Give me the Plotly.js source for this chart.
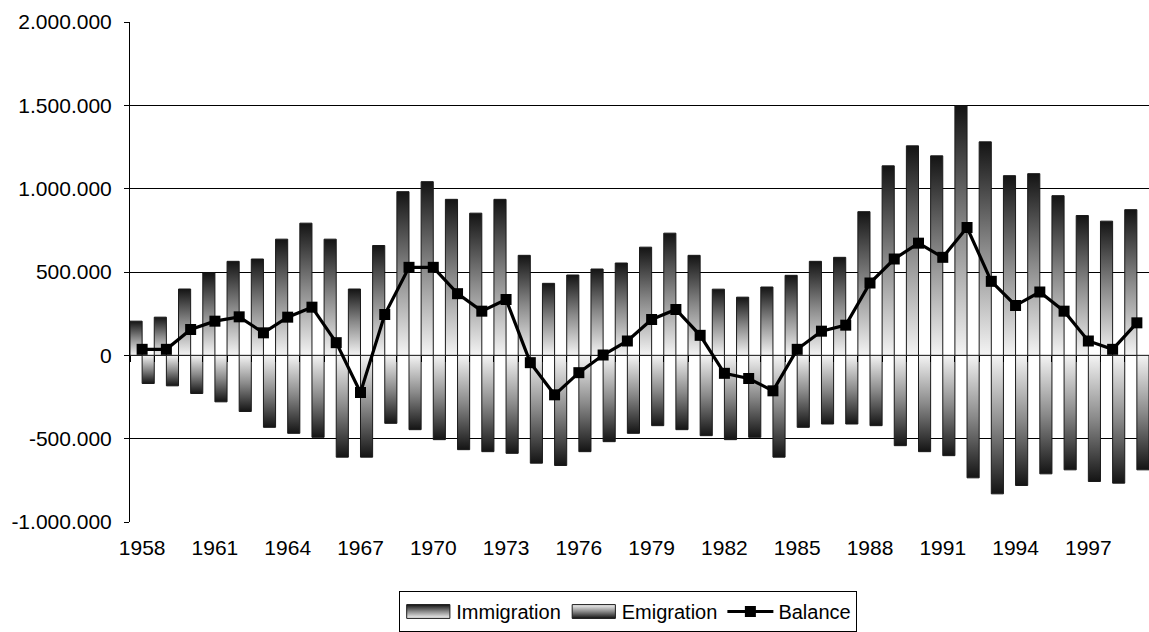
<!DOCTYPE html>
<html>
<head>
<meta charset="utf-8">
<script src="https://cdn.plot.ly/plotly-3.0.1.min.js"></script>
<style>
html,body{margin:0;padding:0;background:#fff;}
#chart{width:1149px;height:632px;}
</style>
</head>
<body>
<div id="chart"></div>
<script>
var years = ['1958','1959','1960','1961','1962','1963','1964','1965','1966','1967',
             '1968','1969','1970','1971','1972','1973','1974','1975','1976','1977',
             '1978','1979','1980','1981','1982','1983','1984','1985','1986','1987',
             '1988','1989','1990','1991','1992','1993','1994','1995','1996','1997',
             '1998','1999'];
var immigration = [205000, 229000, 398000, 494000, 564000, 578000, 697000, 793000, 697000, 398000,
                   659000, 982000, 1042000, 936000, 853000, 936000, 600000, 432000, 482000, 518000,
                   554000, 649000, 733000, 600000, 397000, 349000, 410000, 480000, 564000, 588000,
                   862000, 1137000, 1257000, 1197000, 1496000, 1281000, 1078000, 1090000, 958000, 839000,
                   805000, 874000];
var emigration = [-169000, -183000, -229000, -279000, -337000, -432000, -468000, -492000, -611000, -611000,
                  -408000, -446000, -506000, -566000, -578000, -588000, -647000, -661000, -578000, -518000,
                  -468000, -422000, -446000, -482000, -506000, -492000, -611000, -432000, -412000, -412000,
                  -422000, -542000, -578000, -602000, -735000, -831000, -781000, -711000, -687000, -757000,
                  -767000, -687000];
var balance = [36000, 36000, 155000, 205000, 231000, 135000, 229000, 289000, 76000, -223000,
               245000, 528000, 528000, 370000, 265000, 335000, -44000, -237000, -104000, 2000,
               86000, 215000, 275000, 120000, -108000, -139000, -213000, 36000, 145000, 181000,
               434000, 578000, 673000, 588000, 767000, 444000, 299000, 380000, 265000, 86000,
               36000, 195000];
var xTickVals = ['1958','1961','1964','1967','1970','1973','1976','1979','1982','1985','1988','1991','1994','1997'];
var yTickVals = [-1000000, -500000, 0, 500000, 1000000, 1500000, 2000000];
var yTickText = ['-1.000.000', '-500.000', '0', '500.000', '1.000.000', '1.500.000', '2.000.000'];

var FONT = 'Liberation Sans, Arial, sans-serif';

var traces = [
  {type:'bar', name:'Immigration', x:years, y:immigration, xaxis:'x', yaxis:'y',
   marker:{color:'#888', line:{color:'#1a1a1a', width:1}}},
  {type:'bar', name:'Emigration', x:years, y:emigration, xaxis:'x', yaxis:'y',
   marker:{color:'#888', line:{color:'#1a1a1a', width:1}}},
  {type:'scatter', mode:'lines+markers', name:'Balance', x:years, y:balance, xaxis:'x2', yaxis:'y',
   line:{color:'#000', width:3.2}, marker:{symbol:'square', size:11, color:'#000'}}
];

var layout = {
  width:1149, height:632,
  margin:{l:130, r:0, t:22, b:108},
  paper_bgcolor:'#fff', plot_bgcolor:'#fff',
  font:{family:FONT, size:21, color:'#000'},
  barmode:'group', bargap:0, bargroupgap:0,
  showlegend:true,
  legend:{orientation:'h', x:0.489, xanchor:'center', y:-0.139, yanchor:'top',
          bordercolor:'#000', borderwidth:1, font:{family:FONT, size:20, color:'#000'},
          itemwidth:46, tracegroupgap:0},
  xaxis:{type:'category', categoryarray:years, categoryorder:'array', range:[-0.5, 41.5],
         tickmode:'array', tickvals:xTickVals, ticks:'outside', ticklen:7, tickcolor:'rgba(0,0,0,0)',
         showline:false, showgrid:false, zeroline:false,
         tickfont:{family:FONT, size:21, color:'#000'}, fixedrange:true},
  xaxis2:{type:'category', categoryarray:years, categoryorder:'array', range:[-0.5, 41.5],
          overlaying:'x', anchor:'free', position:1/3, side:'bottom', layer:'above traces',
          showticklabels:false, ticks:'outside', tickson:'boundaries', ticklen:6, tickcolor:'#000', tickwidth:1,
          dtick:1, showline:false, showgrid:false, zeroline:false, fixedrange:true},
  yaxis:{range:[-1000000, 2000000], tickmode:'array', tickvals:yTickVals, ticktext:yTickText,
         ticks:'outside', ticklen:5, tickcolor:'#000', tickwidth:1, ticklabelstandoff:8,
         showline:true, linecolor:'#000', linewidth:1,
         showgrid:true, gridcolor:'#000', gridwidth:1,
         zeroline:true, zerolinecolor:'#000', zerolinewidth:1,
         tickfont:{family:FONT, size:21, color:'#000'}, fixedrange:true}
};

function applyGradients(gd){
  var svg = gd.querySelector('svg.main-svg');
  if(!svg) return;
  var ns = 'http://www.w3.org/2000/svg';
  var defs = svg.querySelector('defs');
  if(!defs){ defs = document.createElementNS(ns,'defs'); svg.insertBefore(defs, svg.firstChild); }
  function mk(id, stops){
    if(svg.querySelector('#'+id)) return;
    var g = document.createElementNS(ns,'linearGradient');
    g.setAttribute('id', id);
    g.setAttribute('x1','0'); g.setAttribute('y1','0'); g.setAttribute('x2','0'); g.setAttribute('y2','1');
    stops.forEach(function(s){
      var st = document.createElementNS(ns,'stop');
      st.setAttribute('offset', s[0]); st.setAttribute('stop-color', s[1]);
      g.appendChild(st);
    });
    defs.appendChild(g);
  }
  mk('gradImm', [['0','#141414'],['0.5','#8a8a8a'],['1','#f4f4f4']]);
  mk('gradEmi', [['0','#f4f4f4'],['0.5','#8a8a8a'],['1','#141414']]);
  var barGroups = svg.querySelectorAll('.barlayer .trace.bars');
  var ids = ['gradImm','gradEmi'];
  barGroups.forEach(function(g, i){
    g.querySelectorAll('path').forEach(function(p){ p.style.fill = 'url(#'+ids[i]+')'; });
  });
  var legendItems = gd.querySelectorAll('.legend .traces');
  legendItems.forEach(function(item, i){
    if(i < 2){
      item.querySelectorAll('.legendpoints path').forEach(function(p){
        p.style.fill = 'url(#'+ids[i]+')';
        p.style.stroke = '#1a1a1a';
        if(!p.hasAttribute('data-orig-tf')){
          p.setAttribute('data-orig-tf', p.getAttribute('transform') || '');
        }
        p.setAttribute('transform', p.getAttribute('data-orig-tf') + ' scale(3.6,1.15)');
        p.style.vectorEffect = 'non-scaling-stroke';
      });
    }
  });
}

Plotly.newPlot('chart', traces, layout, {displayModeBar:false, staticPlot:true}).then(function(gd){
  applyGradients(gd);
  gd.on('plotly_afterplot', function(){ applyGradients(gd); });
});
</script>
</body>
</html>
